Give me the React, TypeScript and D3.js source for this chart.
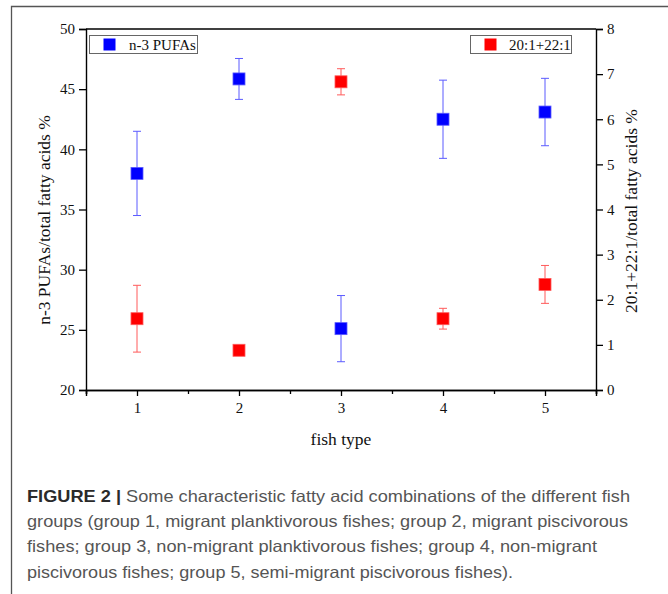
import React, { useEffect, useRef } from "react";
import * as d3 from "d3";

// fish groups
const groups = [1, 2, 3, 4, 5];
// n-3 PUFAs (left axis) mean and error
const pufaMean = [38.0, 45.85, 25.1, 42.5, 43.1];
const pufaErr = [3.5, 1.7, 2.75, 3.25, 2.8];
// 20:1+22:1 (right axis) mean and error
const monoMean = [1.58, 0.88, 6.83, 1.58, 2.34];
const monoErr = [0.74, 0.08, 0.29, 0.23, 0.42];

const leftTicks = [20, 25, 30, 35, 40, 45, 50];
const rightTicks = [0, 1, 2, 3, 4, 5, 6, 7, 8];
const captionLines = [
  "Some characteristic fatty acid combinations of the different fish",
  "groups (group 1, migrant planktivorous fishes; group 2, migrant piscivorous",
  "fishes; group 3, non-migrant planktivorous fishes; group 4, non-migrant",
  "piscivorous fishes; group 5, semi-migrant piscivorous fishes).",
];
const captionWidths = [603, 601, 570, 486];

export default function App() {
  const ref = useRef<SVGSVGElement>(null);

  useEffect(() => {
    const width = 668;
    const height = 594;
    const margin = { top: 29, left: 86, bottom: 204, right: 72 };
    const iwidth = width - margin.left - margin.right;
    const iheight = height - margin.top - margin.bottom;
    const serif = "'Liberation Serif', 'Times New Roman', serif";

    const svg = d3.select(ref.current);
    svg.selectAll("*").remove();
    svg.attr("width", width).attr("height", height);

    // outer figure frame (top and left edges)
    svg.append("path")
      .attr("d", `M11.5,${height} V6.5 H${width}`)
      .attr("fill", "none")
      .attr("stroke", "#555")
      .attr("stroke-width", 1.3);

    const g = svg.append("g").attr("transform", `translate(${margin.left},${margin.top})`);

    const x = d3.scaleLinear().domain([0.5, 5.5]).range([0, iwidth]);
    const yL = d3.scaleLinear().domain([20, 50]).range([iheight, 0]);
    const yR = d3.scaleLinear().domain([0, 8]).range([iheight, 0]);

    const styleAxis = (sel: any) => {
      sel.select(".domain").attr("stroke", "#000").attr("stroke-width", 1.4);
      sel.selectAll(".tick line").attr("stroke", "#000").attr("stroke-width", 1.3);
      sel.selectAll("text").attr("font-family", serif).attr("font-size", 15).attr("fill", "#111");
    };

    // minor x ticks
    g.append("g")
      .attr("transform", `translate(0,${iheight})`)
      .call(d3.axisBottom(x).tickValues([0.5, 1.5, 2.5, 3.5, 4.5, 5.5]).tickSize(4).tickFormat(() => "") as any)
      .call(styleAxis);

    g.append("g")
      .attr("transform", `translate(0,${iheight})`)
      .call(d3.axisBottom(x).tickValues(groups).tickSize(6).tickPadding(6).tickFormat(d3.format("d")) as any)
      .call(styleAxis);

    g.append("g")
      .call(d3.axisLeft(yL).tickValues(leftTicks).tickSize(7).tickPadding(4) as any)
      .call(styleAxis);

    g.append("g")
      .attr("transform", `translate(${iwidth},0)`)
      .call(d3.axisRight(yR).tickValues(rightTicks).tickSize(7).tickPadding(4) as any)
      .call(styleAxis);

    g.append("line")
      .attr("x1", 0).attr("x2", iwidth).attr("y1", 0).attr("y2", 0)
      .attr("stroke", "#000").attr("stroke-width", 1.4);

    // axis titles
    svg.append("text")
      .attr("transform", `translate(50,220) rotate(-90)`)
      .attr("text-anchor", "middle")
      .attr("font-family", serif).attr("font-size", 17.5).attr("fill", "#111")
      .text("n-3 PUFAs/total fatty acids %");

    svg.append("text")
      .attr("transform", `translate(637,211) rotate(-90)`)
      .attr("text-anchor", "middle")
      .attr("font-family", serif).attr("font-size", 17.5).attr("fill", "#111")
      .text("20:1+22:1/total fatty acids %");

    svg.append("text")
      .attr("x", margin.left + iwidth / 2)
      .attr("y", 445)
      .attr("text-anchor", "middle")
      .attr("font-family", serif).attr("font-size", 17.5).attr("fill", "#111")
      .text("fish type");

    const drawSeries = (mean: number[], err: number[], y: any, fill: string, barColor: string) => {
      const s = g.append("g");
      const data = groups.map((d, i) => ({ g: d, m: mean[i], e: err[i] }));
      const bars = s.selectAll("g.err").data(data).enter().append("g").attr("class", "err")
        .attr("stroke", barColor).attr("stroke-width", 1);
      bars.append("line")
        .attr("x1", d => x(d.g)).attr("x2", d => x(d.g))
        .attr("y1", d => y(d.m + d.e)).attr("y2", d => y(d.m - d.e));
      bars.append("line")
        .attr("x1", d => x(d.g) - 4).attr("x2", d => x(d.g) + 4)
        .attr("y1", d => y(d.m + d.e)).attr("y2", d => y(d.m + d.e));
      bars.append("line")
        .attr("x1", d => x(d.g) - 4).attr("x2", d => x(d.g) + 4)
        .attr("y1", d => y(d.m - d.e)).attr("y2", d => y(d.m - d.e));
      s.selectAll("rect").data(data).enter().append("rect")
        .attr("x", d => x(d.g) - 6).attr("y", d => y(d.m) - 6)
        .attr("width", 12).attr("height", 12)
        .attr("fill", fill)
        .attr("stroke", barColor).attr("stroke-width", 0.8);
    };

    drawSeries(pufaMean, pufaErr, yL, "#0000ff", "#5b5bff");
    drawSeries(monoMean, monoErr, yR, "#ff0000", "#ff5b5b");

    // legends
    const legend = (lx: number, w: number, fill: string, label: string, tx: number) => {
      const lg = svg.append("g");
      lg.append("rect")
        .attr("x", lx).attr("y", 35.5).attr("width", w).attr("height", 18)
        .attr("fill", "#fff").attr("stroke", "#666").attr("stroke-width", 1);
      lg.append("rect")
        .attr("x", lx + 14).attr("y", 38.5).attr("width", 12).attr("height", 12)
        .attr("fill", fill);
      lg.append("text")
        .attr("x", tx).attr("y", 49.5)
        .attr("font-family", serif).attr("font-size", 15).attr("fill", "#111")
        .text(label);
    };
    legend(89.5, 108, "#0000ff", "n-3 PUFAs", 129);
    legend(470.5, 101, "#ff0000", "20:1+22:1", 509);

    // caption
    const sans = "'Liberation Sans', Arial, Helvetica, sans-serif";
    captionLines.forEach((line, i) => {
      const t = svg.append("text")
        .attr("x", 27)
        .attr("y", 502 + i * 25.2)
        .attr("font-family", sans).attr("font-size", 16.5).attr("fill", "#555")
        .attr("textLength", captionWidths[i]).attr("lengthAdjust", "spacingAndGlyphs");
      if (i === 0) {
        t.append("tspan").attr("font-weight", "bold").attr("fill", "#2a2a2a").text("FIGURE 2 |");
        t.append("tspan").text(" " + line);
      } else {
        t.text(line);
      }
    });
  }, []);

  return (
    <div style={{ position: "absolute", left: 0, top: 0 }}>
      <svg ref={ref} />
    </div>
  );
}
